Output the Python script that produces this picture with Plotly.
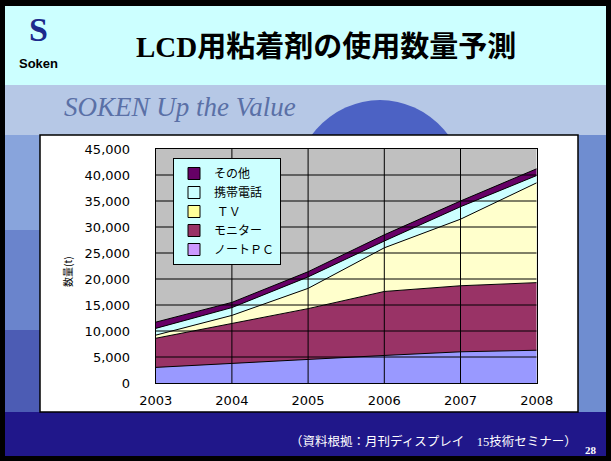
import plotly.graph_objects as go

W, H = 611, 461

years = [2003, 2004, 2005, 2006, 2007, 2008]
note_pc = [3000, 3800, 4600, 5300, 6000, 6300]
monitor = [5600, 7600, 9700, 12300, 12700, 13000]
tv = [600, 1600, 3900, 8400, 12800, 19200]
phone = [1300, 1500, 2200, 1300, 2400, 1400]
other = [1200, 1000, 1000, 1200, 1100, 1300]

series_names = ['ノートＰＣ', 'モニター', ' ＴＶ', '携帯電話', 'その他']
series_values = [note_pc, monitor, tv, phone, other]
series_colors = ['#9999ff', '#993366', '#ffffcc', '#ccffff', '#660066']
legend_colors = ['#cc99ff', '#993366', '#ffff99', '#ccffff', '#660066']

y_ticks = list(range(0, 45001, 5000))

title_text = 'LCD用粘着剤の使用数量予測'
subtitle_text = 'SOKEN Up the Value'
source_text = '（資料根拠：月刊ディスプレイ　15技術セミナー）'
page_no = '28'

JP = 'Noto Sans CJK JP'


def px(x):
    return x / W


def py(y):
    return 1 - y / H


def rect(x0, y0, x1, y1, fill, line=None, width=0, kind='rect'):
    return dict(type=kind, xref='paper', yref='paper', layer='below',
                x0=px(x0), x1=px(x1), y0=py(y1), y1=py(y0),
                fillcolor=fill, line=dict(color=line or fill, width=width))


fig = go.Figure()

# stacked areas (bottom first)
for name, vals, color in zip(series_names, series_values, series_colors):
    fig.add_trace(go.Scatter(
        x=years, y=vals, name=name,
        mode='lines', stackgroup='one',
        line=dict(color='black', width=1),
        fillcolor=color,
        showlegend=False,
        hoverinfo='skip',
    ))

# square legend swatches like the Excel legend
for name, color in zip(series_names, legend_colors):
    fig.add_trace(go.Bar(
        x=[None], y=[None], name=name,
        marker=dict(color=color, line=dict(color='black', width=1)),
    ))

shapes = [
    # slide background
    rect(5, 6, 606, 456, '#6f8dd0'),
    rect(5, 85, 606, 135, '#b6c8e6'),
    rect(5, 135, 40, 230, '#88a4dc'),
    rect(5, 230, 40, 330, '#6a84cc'),
    rect(5, 330, 40, 414, '#4c5cb4'),
    rect(290, 100, 470, 300, '#4c62c4', kind='circle'),
    rect(5, 412, 606, 456, '#20178a'),
    rect(5, 6, 606, 85, '#ccffff'),
    # white chart box
    rect(40, 135, 578, 412, '#ffffff', line='#000000', width=1.5),
    # gray plot area
    dict(type='rect', xref='x', yref='y', layer='below',
         x0=years[0], x1=years[-1], y0=y_ticks[0], y1=y_ticks[-1],
         fillcolor='#c0c0c0', line=dict(width=0)),
]

# gridlines drawn on top of the areas, as in the original
for v in y_ticks[1:-1]:
    shapes.append(dict(type='line', xref='x', yref='y', layer='above',
                       x0=years[0], x1=years[-1], y0=v, y1=v,
                       line=dict(color='black', width=1)))
for yr in years[1:-1]:
    shapes.append(dict(type='line', xref='x', yref='y', layer='above',
                       x0=yr, x1=yr, y0=y_ticks[0], y1=y_ticks[-1],
                       line=dict(color='black', width=1)))

annotations = [
    dict(text='<b>' + title_text + '</b>', x=px(326), y=py(47),
         font=dict(family='Liberation Serif, ' + JP, size=29, color='black')),
    dict(text='<i>' + subtitle_text + '</i>', x=px(180), y=py(107),
         font=dict(family='Liberation Serif', size=27, color='#5a70a6')),
    dict(text='<b>S</b>', x=px(38), y=py(30),
         font=dict(family='Liberation Serif', size=34, color='#1c2a8c')),
    dict(text='<b>Soken</b>', x=px(38), y=py(63),
         font=dict(family='Liberation Sans', size=13, color='black')),
    dict(text='数量(t)', x=px(67), y=py(272), textangle=-90,
         font=dict(family=JP, size=10, color='black')),
    dict(text=source_text, x=px(433), y=py(441),
         font=dict(family='Liberation Serif, ' + JP, size=12.5, color='white')),
    dict(text='<b>' + page_no + '</b>', x=px(591), y=py(450),
         font=dict(family='Liberation Serif', size=11, color='white')),
]
for a in annotations:
    a.update(xref='paper', yref='paper', showarrow=False,
             xanchor='center', yanchor='middle')

fig.update_layout(
    width=W, height=H,
    margin=dict(l=0, r=0, t=0, b=0, autoexpand=False),
    paper_bgcolor='black',
    plot_bgcolor='rgba(0,0,0,0)',
    shapes=shapes,
    annotations=annotations,
    showlegend=True,
    legend=dict(
        x=px(173), y=py(158), xanchor='left', yanchor='top',
        traceorder='reversed',
        bgcolor='#ccffff', bordercolor='black', borderwidth=1,
        font=dict(family=JP, size=12, color='black'),
        itemwidth=30,
    ),
    xaxis=dict(
        domain=[px(155.7), px(536.7)],
        range=[years[0], years[-1]],
        tickvals=years, ticktext=[str(y) for y in years],
        showgrid=False, zeroline=False,
        showline=True, linecolor='black', linewidth=1, mirror=True,
        ticks='', ticklabelstandoff=5,
        tickfont=dict(family='DejaVu Sans', size=13, color='black'),
    ),
    yaxis=dict(
        domain=[py(383), py(149)],
        range=[y_ticks[0], y_ticks[-1]],
        tickvals=y_ticks, tickformat=',',
        showgrid=False, zeroline=False,
        showline=True, linecolor='black', linewidth=1, mirror=True,
        ticks='', ticklabelstandoff=22,
        tickfont=dict(family='DejaVu Sans', size=13, color='black'),
    ),
)

# page has no body margin so the slide fills the window exactly
fig.write_html('out.html', config={'displayModeBar': False},
               post_script="document.body.style.margin = '0';")
